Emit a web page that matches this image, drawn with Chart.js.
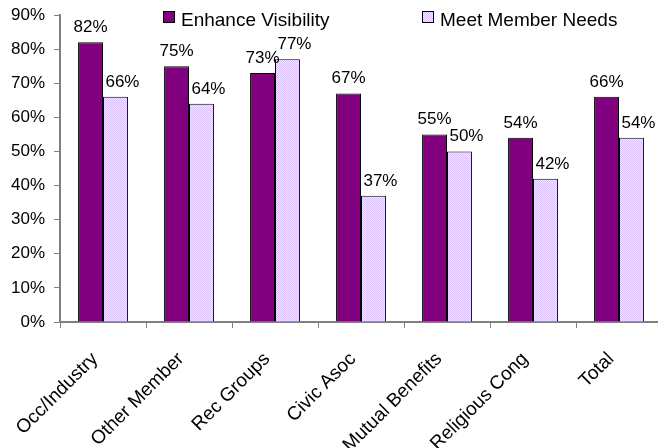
<!DOCTYPE html>
<html>
<head>
<meta charset="utf-8">
<script src="https://cdn.jsdelivr.net/npm/chart.js@4/dist/chart.umd.min.js"></script>
<style>
  html, body { margin: 0; padding: 0; background: #fff; overflow: hidden; }
  #wrap { width: 658px; height: 448px; overflow: hidden; }
</style>
</head>
<body>
<div id="wrap"><canvas id="chart" width="662" height="448"></canvas></div>
<script>
// ===== Data =====
const categories = ['Occ/Industry', 'Other Member', 'Rec Groups', 'Civic Asoc', 'Mutual Benefits', 'Religious Cong', 'Total'];
const seriesNames = ['Enhance Visibility', 'Meet Member Needs'];
const enhanceVisibility = [0.82, 0.75, 0.73, 0.67, 0.55, 0.54, 0.66];
const meetMemberNeeds = [0.66, 0.64, 0.77, 0.37, 0.50, 0.42, 0.54];
const yTicks = [0, 0.1, 0.2, 0.3, 0.4, 0.5, 0.6, 0.7, 0.8, 0.9];

const FONT = "'Liberation Sans', Arial, sans-serif";
const TICK_SIZE = 17;
const CAT_SIZE = 19;
const LABEL_SIZE = 17;
const LEGEND_SIZE = 19;

// ===== Checker pattern for the second series =====
function makeChecker() {
    const c = document.createElement('canvas');
    c.width = 2; c.height = 2;
    const g = c.getContext('2d');
    g.fillStyle = '#F2E8FF';
    g.fillRect(0, 0, 2, 2);
    g.fillStyle = '#D8C0FF';
    g.fillRect(0, 0, 1, 1);
    g.fillRect(1, 1, 1, 1);
    return g.createPattern(c, 'repeat');
}
const checker = makeChecker();

// ===== Value labels above bars =====
const labelShift = [0, 7];
const valueLabels = {
    id: 'valueLabels',
    afterDatasetsDraw(chart) {
        const ctx = chart.ctx;
        ctx.save();
        ctx.font = LABEL_SIZE + 'px ' + FONT;
        ctx.fillStyle = '#000';
        ctx.textAlign = 'center';
        ctx.textBaseline = 'alphabetic';
        chart.data.datasets.forEach((ds, di) => {
            chart.getDatasetMeta(di).data.forEach((bar, i) => {
                ctx.fillText(Math.round(ds.data[i] * 100) + '%', bar.x + labelShift[di], bar.y - 10);
            });
        });
        ctx.restore();
    }
};

// ===== Slanted category labels under the x axis =====
const categoryLabels = {
    id: 'categoryLabels',
    afterDraw(chart) {
        const ctx = chart.ctx;
        const xs = chart.scales.x;
        ctx.save();
        ctx.font = CAT_SIZE + 'px ' + FONT;
        ctx.fillStyle = '#000';
        ctx.textAlign = 'right';
        ctx.textBaseline = 'middle';
        chart.data.labels.forEach((lab, i) => {
            const x = xs.getPixelForValue(i) - 8;
            const y = chart.chartArea.bottom + 34;
            ctx.save();
            ctx.translate(x, y);
            ctx.rotate(-Math.PI / 4);
            ctx.fillText(lab, 0, 0);
            ctx.restore();
        });
        ctx.restore();
    }
};

// ===== Legend drawn inside the plot =====
const legendInside = {
    id: 'legendInside',
    afterDraw(chart) {
        const ctx = chart.ctx;
        const spots = [163, 422];
        ctx.save();
        ctx.font = LEGEND_SIZE + 'px ' + FONT;
        ctx.textBaseline = 'alphabetic';
        chart.data.datasets.forEach((ds, di) => {
            const x = spots[di];
            ctx.fillStyle = ds.backgroundColor;
            ctx.fillRect(x, 11, 12, 12);
            ctx.strokeStyle = '#000';
            ctx.lineWidth = 1;
            ctx.strokeRect(x + 0.5, 11.5, 11, 11);
            ctx.fillStyle = '#000';
            ctx.fillText(ds.label, x + 18, 26);
        });
        ctx.restore();
    }
};

const ctx = document.getElementById('chart').getContext('2d');
new Chart(ctx, {
    type: 'bar',
    data: {
        labels: categories,
        datasets: [
            { label: seriesNames[0], data: enhanceVisibility, backgroundColor: '#800080', borderColor: '#000', borderWidth: 1 },
            { label: seriesNames[1], data: meetMemberNeeds, backgroundColor: checker, borderColor: '#000', borderWidth: 1 }
        ]
    },
    options: {
        responsive: false,
        animation: false,
        layout: { padding: { top: 15, right: 0, left: 0, bottom: 0 } },
        datasets: { bar: { categoryPercentage: 0.58, barPercentage: 1.0 } },
        plugins: {
            legend: { display: false },
            tooltip: { enabled: false }
        },
        scales: {
            x: {
                grid: { drawOnChartArea: false, drawTicks: true, tickLength: 6, color: '#808080', offset: true },
                border: { color: '#808080', width: 2 },
                ticks: { display: false },
                afterFit: (scale) => { scale.height = 126; }
            },
            y: {
                min: 0, max: 0.9,
                afterBuildTicks: (scale) => { scale.ticks = yTicks.map(v => ({ value: v })); },
                grid: { drawOnChartArea: false, drawTicks: true, tickLength: 6, color: '#808080' },
                border: { color: '#808080', width: 2 },
                ticks: {
                    color: '#000',
                    font: { family: FONT, size: TICK_SIZE },
                    padding: 9,
                    callback: (v) => Math.round(v * 100) + '%'
                },
                afterFit: (scale) => {
                    scale.width = 60;
                    scale.paddingTop = 0;
                    scale.paddingBottom = 0;
                }
            }
        }
    },
    plugins: [valueLabels, categoryLabels, legendInside]
});
</script>
</body>
</html>
